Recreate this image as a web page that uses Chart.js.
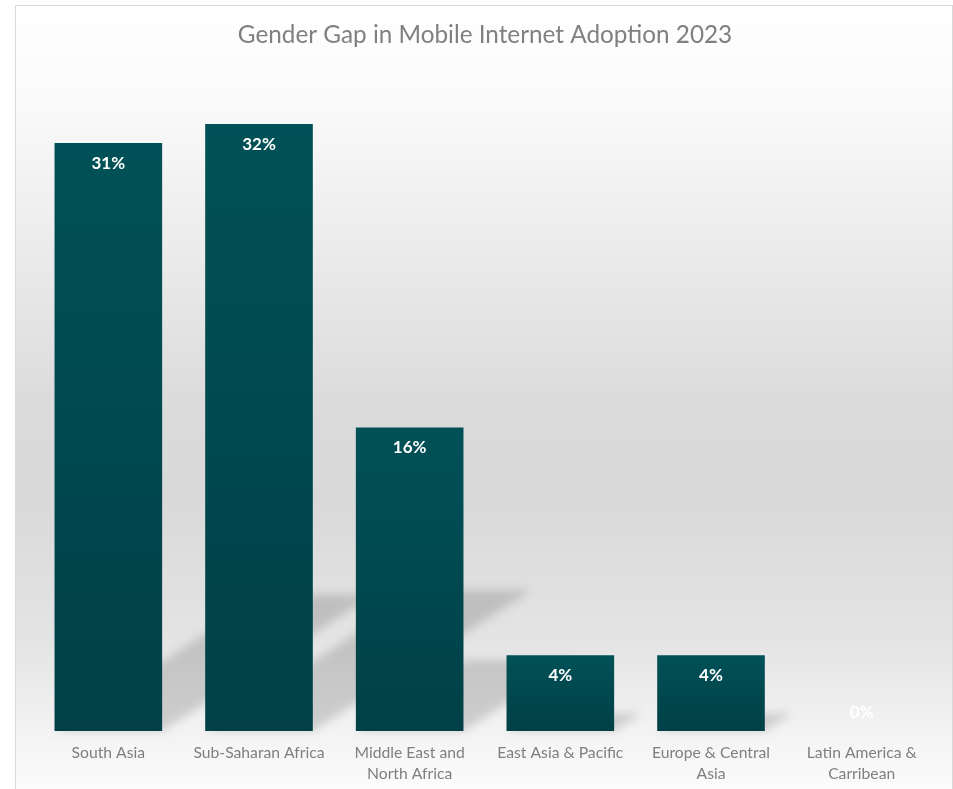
<!DOCTYPE html>
<html>
<head>
<meta charset="utf-8">
<script src="https://cdn.jsdelivr.net/npm/chart.js@4.4.1/dist/chart.umd.min.js"></script>
<style>
  html, body { margin: 0; padding: 0; background: #ffffff; }
  canvas { display: block; }
</style>
</head>
<body>
<canvas id="c" width="953" height="789"></canvas>
<script>
// ---- Data ----
const chartTitle = 'Gender Gap in Mobile Internet Adoption 2023';
const regions = [
  'South Asia',
  'Sub-Saharan Africa',
  ['Middle East and', 'North Africa'],
  'East Asia & Pacific',
  ['Europe & Central', 'Asia'],
  ['Latin America &', 'Carribean']
];
const gapPercent = [31, 32, 16, 4, 4, 0];

const FONT = 'Lato, "Open Sans", sans-serif';

// Background + border
const backgroundPlugin = {
  id: 'bgPlugin',
  beforeDraw(chart) {
    const ctx = chart.ctx;
    ctx.save();
    const top = 6, bottom = 800;
    const g = ctx.createLinearGradient(0, top, 0, bottom);
    g.addColorStop(0, '#ffffff');
    g.addColorStop(0.12, '#fafafa');
    g.addColorStop(0.3, '#ececec');
    g.addColorStop(0.5, '#dbdbdb');
    g.addColorStop(0.62, '#d9d9d9');
    g.addColorStop(0.8, '#e4e4e4');
    g.addColorStop(0.93, '#f5f5f5');
    g.addColorStop(1, '#fdfdfd');
    ctx.fillStyle = g;
    ctx.fillRect(16, 6, 936, 800);
    ctx.strokeStyle = '#d9d9d9';
    ctx.lineWidth = 1;
    ctx.strokeRect(15.5, 5.5, 937, 800);
    ctx.restore();
  }
};

// Perspective shadows behind the bars
const shadowPlugin = {
  id: 'shadowPlugin',
  beforeDatasetsDraw(chart) {
    const ctx = chart.ctx;
    const meta = chart.getDatasetMeta(0);
    ctx.save();
    ctx.beginPath();
    ctx.rect(16, 6, 936, 800);
    ctx.clip();
    ctx.filter = 'blur(5px)';
    ctx.fillStyle = 'rgba(0,0,0,0.15)';
    meta.data.forEach(el => {
      const p = el.getProps(['x', 'y', 'base', 'width'], true);
      const h = p.base - p.y;
      if (h <= 0) return;
      const l = p.x - p.width / 2, r = p.x + p.width / 2;
      const dx = h * 0.36, dy = h * 0.232;
      ctx.beginPath();
      ctx.moveTo(l, p.base);
      ctx.lineTo(r, p.base);
      ctx.lineTo(r + dx, p.base - dy);
      ctx.lineTo(l + dx, p.base - dy);
      ctx.closePath();
      ctx.fill();
    });
    ctx.restore();
  }
};

// Data labels inside end
const labelPlugin = {
  id: 'labelPlugin',
  afterDatasetsDraw(chart) {
    const ctx = chart.ctx;
    const meta = chart.getDatasetMeta(0);
    ctx.save();
    ctx.font = 'bold 17px ' + FONT;
    ctx.fillStyle = '#ffffff';
    ctx.textAlign = 'center';
    ctx.textBaseline = 'middle';
    meta.data.forEach((el, i) => {
      const p = el.getProps(['x', 'y', 'base'], true);
      const h = p.base - p.y;
      const y = h > 0 ? p.y + 20 : p.y - 18;
      ctx.fillText(gapPercent[i] + '%', p.x, y);
    });
    ctx.restore();
  }
};

function barGradient(c) {
  const chart = c.chart;
  if (!chart.chartArea || c.raw === undefined) return '#004a50';
  const ys = chart.scales.y;
  const top = ys.getPixelForValue(c.raw);
  const bot = ys.getPixelForValue(0);
  if (bot - top < 1) return '#004a50';
  const g = chart.ctx.createLinearGradient(0, top, 0, bot);
  g.addColorStop(0, '#005157');
  g.addColorStop(1, '#004046');
  return g;
}

new Chart(document.getElementById('c'), {
  type: 'bar',
  data: {
    labels: regions,
    datasets: [{
      data: gapPercent,
      backgroundColor: barGradient,
      borderWidth: 0,
      barPercentage: 1 / 1.4,
      categoryPercentage: 1.0
    }]
  },
  options: {
    responsive: false,
    animation: false,
    devicePixelRatio: 1,
    layout: { padding: { left: 33, right: 16, top: 0, bottom: 0 } },
    plugins: {
      legend: { display: false },
      tooltip: { enabled: false },
      title: {
        display: true,
        text: chartTitle,
        color: '#808080',
        font: { family: FONT, size: 24.3, weight: 'normal', lineHeight: 1.2 },
        padding: { top: 21, bottom: 17 }
      }
    },
    scales: {
      x: {
        grid: { display: false, drawTicks: false },
        border: { display: false },
        ticks: {
          color: '#7f7f7f',
          font: { family: FONT, size: 15.7, lineHeight: 1.35 },
          padding: 11.5,
          maxRotation: 0,
          autoSkip: false
        },
        afterFit(s) { s.height = 58; }
      },
      y: {
        display: false,
        min: 0,
        max: 35
      }
    }
  },
  plugins: [backgroundPlugin, shadowPlugin, labelPlugin]
});
</script>
</body>
</html>
